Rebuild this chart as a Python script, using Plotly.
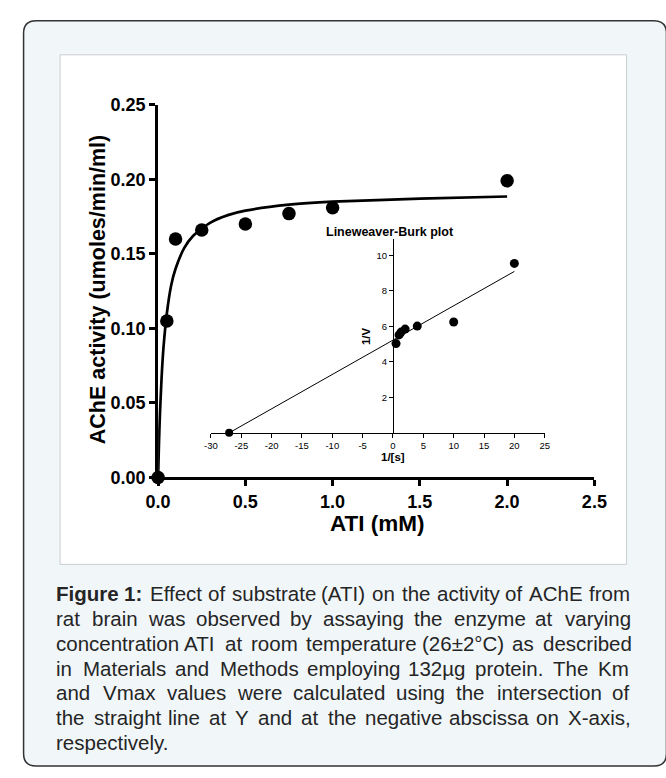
import plotly.graph_objects as go

W, H = 666, 778

# ---- data ----
ati_mM = [0, 0.05, 0.1, 0.25, 0.5, 0.75, 1.0, 2.0]
activity = [0.0, 0.105, 0.160, 0.166, 0.170, 0.177, 0.181, 0.199]

fit_x = [0, 0.005, 0.01, 0.02, 0.03, 0.05, 0.075, 0.1, 0.15, 0.2, 0.3, 0.4, 0.5, 0.75, 1.0, 1.5, 2.0]
fit_y = [0, 0.023, 0.041, 0.067, 0.086, 0.110, 0.129, 0.140, 0.154, 0.162, 0.171, 0.176, 0.179, 0.183, 0.185, 0.187, 0.1885]

lb_x = [0.5, 1.0, 1.33, 2.0, 4.0, 10.0, 20.0]
lb_y = [5.03, 5.52, 5.68, 5.85, 6.02, 6.25, 9.55]
lb_intercept_x = [-27]
lb_intercept_y = [0]
lb_line_x = [-27, 20]
lb_line_y = [0, 9.1]

main_xticks = [0, 0.5, 1.0, 1.5, 2.0, 2.5]
main_xticklabels = ["0.0", "0.5", "1.0", "1.5", "2.0", "2.5"]
main_yticks = [0, 0.05, 0.10, 0.15, 0.20, 0.25]
main_yticklabels = ["0.00", "0.05", "0.10", "0.15", "0.20", "0.25"]
inset_xticks = [-30, -25, -20, -15, -10, -5, 0, 5, 10, 15, 20, 25]
inset_xticklabels = ["-30", "-25", "-20", "-15", "-10", "-5", "0", "5", "10", "15", "20", "25"]
inset_yticks = [2, 4, 6, 8, 10]
inset_yticklabels = ["2", "4", "6", "8", "10"]

caption_bold = "Figure 1:"
caption_lines = [
    "Figure 1: Effect of substrate (ATI) on the activity of AChE from",
    "rat brain was observed by assaying the enzyme at varying",
    "concentration ATI at room temperature (26±2°C) as described",
    "in Materials and Methods employing 132µg protein. The Km",
    "and Vmax values were calculated using the intersection of",
    "the straight line at Y and at the negative abscissa on X-axis,",
    "respectively.",
]


def px(x):
    return x / W


def py(y):
    return 1 - y / H


FONT = "Liberation Sans, Arial, sans-serif"
NARROW = "Liberation Sans Narrow, Arial Narrow, Liberation Sans, Arial, sans-serif"

# Arial / Liberation Sans advance widths (1/1000 em) for justified caption layout
REG = {' ': 278, '(': 333, ')': 333, ',': 278, '-': 333, '.': 278, '/': 278, ':': 278, '±': 584, '°': 400, 'µ': 577,
       'A': 667, 'B': 667, 'C': 722, 'D': 722, 'E': 667, 'F': 611, 'G': 778, 'H': 722, 'I': 278, 'J': 500, 'K': 667,
       'L': 556, 'M': 833, 'N': 722, 'O': 778, 'P': 667, 'Q': 778, 'R': 722, 'S': 667, 'T': 611, 'U': 722, 'V': 667,
       'W': 944, 'X': 667, 'Y': 667, 'Z': 611,
       'a': 556, 'b': 556, 'c': 500, 'd': 556, 'e': 556, 'f': 278, 'g': 556, 'h': 556, 'i': 222, 'j': 222, 'k': 500,
       'l': 222, 'm': 833, 'n': 556, 'o': 556, 'p': 556, 'q': 556, 'r': 333, 's': 500, 't': 278, 'u': 556, 'v': 500,
       'w': 722, 'x': 500, 'y': 500, 'z': 500}
BOLD = {'F': 611, 'i': 278, 'g': 611, 'u': 611, 'r': 389, 'e': 556, '1': 556, ':': 333, ' ': 278}


def text_w(s, size, bold=False):
    tbl = BOLD if bold else REG
    return sum(tbl.get(ch, 556) for ch in s) * size / 1000.0


fig = go.Figure()

fig.add_trace(go.Scatter(x=fit_x, y=fit_y, mode="lines", line=dict(color="black", width=2.7, shape="spline", smoothing=0.6),
                         xaxis="x", yaxis="y", hoverinfo="skip", cliponaxis=False))
fig.add_trace(go.Scatter(x=ati_mM, y=activity, mode="markers", marker=dict(color="black", size=13.5),
                         xaxis="x", yaxis="y", cliponaxis=False))

fig.add_trace(go.Scatter(x=lb_line_x, y=lb_line_y, mode="lines", line=dict(color="black", width=1),
                         xaxis="x2", yaxis="y2", cliponaxis=False))
fig.add_trace(go.Scatter(x=lb_x, y=lb_y, mode="markers", marker=dict(color="black", size=9),
                         xaxis="x2", yaxis="y2", cliponaxis=False))
fig.add_trace(go.Scatter(x=lb_intercept_x, y=lb_intercept_y, mode="markers", marker=dict(color="black", size=8),
                         xaxis="x2", yaxis="y2", cliponaxis=False))

# background panels
r = 13
x0, y0, x1, y1 = 11, 11, 680, 776
path = (f"M {px(x0+r)},{py(y0)} L {px(x1-r)},{py(y0)} Q {px(x1)},{py(y0)} {px(x1)},{py(y0+r)} "
        f"L {px(x1)},{py(y1-r)} Q {px(x1)},{py(y1)} {px(x1-r)},{py(y1)} "
        f"L {px(x0+r)},{py(y1)} Q {px(x0)},{py(y1)} {px(x0)},{py(y1-r)} "
        f"L {px(x0)},{py(y0+r)} Q {px(x0)},{py(y0)} {px(x0+r)},{py(y0)} Z")
shapes = [
    dict(type="path", path=path, xref="paper", yref="paper", fillcolor="#F1F6F9",
         line=dict(color="#333333", width=1.5), layer="below"),
    dict(type="rect", xref="paper", yref="paper", x0=px(49), x1=px(638.5), y0=py(569), y1=py(46),
         fillcolor="white", line=dict(color="#C9CED2", width=1), layer="below"),
]

annotations = [
    dict(text="<b>ATI (mM)</b>", x=px(379), y=py(527), xref="paper", yref="paper", showarrow=False,
         font=dict(family=FONT, size=22.5, color="black"), xanchor="center", yanchor="middle", borderpad=0),
    dict(text="<b>AChE activity (umoles/min/ml)</b>", x=px(88), y=py(287), xref="paper", yref="paper",
         showarrow=False, textangle=-90, font=dict(family=FONT, size=21.5, color="black"),
         xanchor="center", yanchor="middle"),
    dict(text="<b>Lineweaver-Burk plot</b>", x=px(392.5), y=py(227.5), xref="paper", yref="paper",
         showarrow=False, font=dict(family=FONT, size=12.5, color="black"), xanchor="center", yanchor="middle"),
    dict(text="<b>1/[s]</b>", x=px(395), y=py(459), xref="paper", yref="paper", showarrow=False,
         font=dict(family=FONT, size=11.5, color="black"), xanchor="center", yanchor="middle", borderpad=0),
    dict(text="<b>1/V</b>", x=px(368), y=py(335), xref="paper", yref="paper", showarrow=False, textangle=-90,
         font=dict(family=FONT, size=11.5, color="black"), xanchor="center", yanchor="middle"),
]

# justified caption
CAP_SIZE = 20.5
CAP_LEFT, CAP_RIGHT = 45, 640
base0, lead = 606, 25.5
for i, line in enumerate(caption_lines):
    yb = base0 + i * lead
    words = line.split(" ")
    nb = len(caption_bold.split(" ")) if i == 0 else 0
    bold_flags = [k < nb for k in range(len(words))]
    widths = [text_w(w, CAP_SIZE, b) for w, b in zip(words, bold_flags)]
    space = text_w(" ", CAP_SIZE)
    last = i == len(caption_lines) - 1
    if not last and len(words) > 1:
        gap = (CAP_RIGHT - CAP_LEFT - sum(widths)) / (len(words) - 1)
    else:
        gap = space
    x = CAP_LEFT
    for w, b, wd in zip(words, bold_flags, widths):
        annotations.append(dict(text=f"<b>{w}</b>" if b else w, x=px(x), y=py(yb - 7), xref="paper", yref="paper",
                                showarrow=False, font=dict(family=FONT, size=CAP_SIZE, color="#252525"),
                                xanchor="left", yanchor="middle", borderpad=0, borderwidth=0))
        x += wd + gap

fig.update_layout(
    width=W, height=H,
    margin=dict(l=0, r=0, t=0, b=0),
    paper_bgcolor="white", plot_bgcolor="rgba(0,0,0,0)",
    showlegend=False,
    shapes=shapes,
    annotations=annotations,
    xaxis=dict(domain=[px(151), px(605)], range=[0, 2.5], showgrid=False, zeroline=False,
               showline=True, linecolor="black", linewidth=3, ticks="outside", ticklen=6, tickwidth=2.5,
               tickcolor="black", tickvals=main_xticks, ticktext=main_xticklabels,
               tickfont=dict(family=FONT, size=18, color="black", weight="bold"), anchor="y"),
    yaxis=dict(domain=[py(479.8), py(97.3)], range=[0, 0.25], showgrid=False, zeroline=False,
               showline=True, linecolor="black", linewidth=3, ticks="outside", ticklen=6, tickwidth=2.5,
               tickcolor="black", tickvals=main_yticks, ticktext=main_yticklabels,
               tickfont=dict(family=FONT, size=18, color="black", weight="bold"), anchor="x"),
    xaxis2=dict(domain=[px(206), px(553.3)], range=[-30, 25], showgrid=False, zeroline=False,
                showline=True, linecolor="black", linewidth=1.2, ticks="outside", ticklen=4, tickwidth=1,
                tickcolor="black", tickvals=inset_xticks, ticktext=inset_xticklabels,
                tickfont=dict(family=NARROW, size=9.5, color="black"), anchor="y2"),
    yaxis2=dict(domain=[py(434), py(235)], range=[0, 10.93], showgrid=False, zeroline=False,
                showline=True, linecolor="black", linewidth=1.2, ticks="outside", ticklen=4, tickwidth=1,
                tickcolor="black", tickvals=inset_yticks, ticktext=inset_yticklabels,
                tickfont=dict(family=NARROW, size=9.5, color="black"), anchor="free", position=px(395.4)),
)

fig.write_html("out.html", config={"displayModeBar": False},
               post_script="document.body.style.margin='0';document.body.style.overflow='hidden';")
